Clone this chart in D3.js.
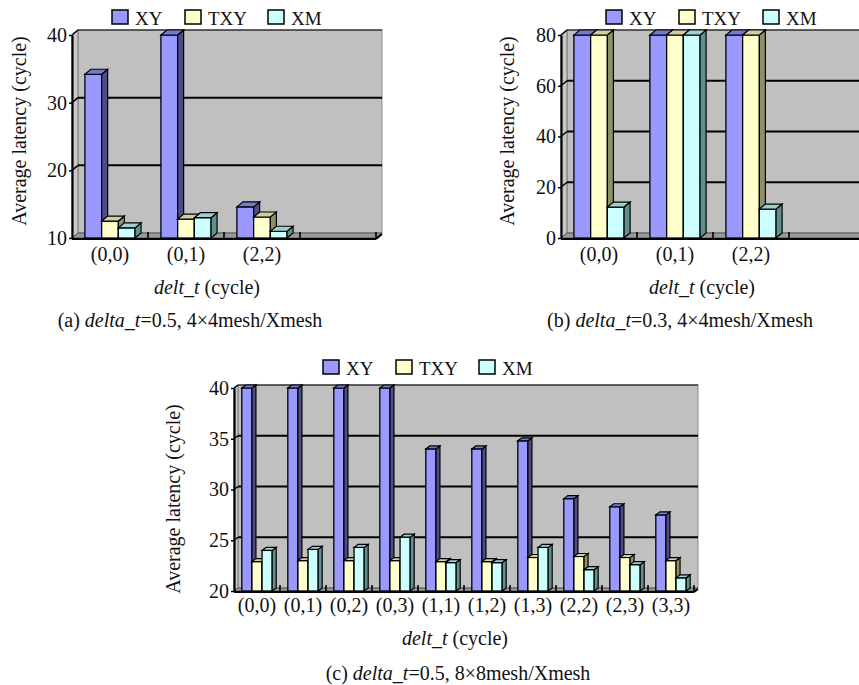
<!DOCTYPE html>
<html>
<head>
<meta charset="utf-8">
<script src="https://cdn.jsdelivr.net/npm/d3@7/dist/d3.min.js"></script>
<style>
  html, body { margin: 0; padding: 0; background: #ffffff; }
  svg { display: block; }
  svg text { font-family: "Times New Roman", "Liberation Serif", Times, serif !important; fill: #111; }
</style>
</head>
<body>
<svg id="chart" width="859" height="685" font-family="Liberation Serif, Times New Roman, serif"></svg>
<script>
// ---- data ----
const seriesNames = ["XY", "TXY", "XM"];

// (a) delta_t = 0.5, 4x4 mesh
const catsA = ["(0,0)", "(0,1)", "(2,2)"];
const xyA  = [34.2, 40, 14.6];
const txyA = [12.5, 12.8, 13.1];
const xmA  = [11.5, 13.0, 11.0];
const ticksA = [10, 20, 30, 40];

// (b) delta_t = 0.3, 4x4 mesh
const catsB = ["(0,0)", "(0,1)", "(2,2)"];
const xyB  = [80, 80, 80];
const txyB = [80, 80, 80];
const xmB  = [12.2, 80, 11.4];
const ticksB = [0, 20, 40, 60, 80];

// (c) delta_t = 0.5, 8x8 mesh
const catsC = ["(0,0)", "(0,1)", "(0,2)", "(0,3)", "(1,1)", "(1,2)", "(1,3)", "(2,2)", "(2,3)", "(3,3)"];
const xyC  = [40, 40, 40, 40, 34.0, 34.0, 34.8, 29.1, 28.3, 27.5];
const txyC = [22.9, 23.0, 23.0, 23.0, 22.9, 22.9, 23.3, 23.4, 23.3, 23.0];
const xmC  = [24.0, 24.1, 24.3, 25.3, 22.8, 22.8, 24.3, 22.1, 22.6, 21.3];
const ticksC = [20, 25, 30, 35, 40];

const yTitle = "Average latency (cycle)";

const FONT = '"Times New Roman", "Liberation Serif", Times, serif';

// face colours: front, side, top
const palette = {
  XY:  { front: "#9999ff", side: "#4c4c86", top: "#7878d0" },
  TXY: { front: "#ffffcc", side: "#8f8f68", top: "#cfcfa2" },
  XM:  { front: "#ccffff", side: "#5f8f8f", top: "#9fd0d0" }
};

const svg = d3.select("#chart");

function drawPanel(cfg) {
  const g = svg.append("g");
  const { x0, x1, base, top, dx, dy } = cfg;

  // one spare empty slot on the right for the 4x4 charts
  const domain = cfg.cats.concat(cfg.spare ? [""] : []);
  const x = d3.scaleBand().domain(domain).range([x0, x1]);
  const y = d3.scaleLinear().domain(cfg.yDomain).range([base, top]);

  // back wall
  g.append("rect")
    .attr("x", x0 + dx).attr("y", top + dy)
    .attr("width", x1 - x0).attr("height", base - top)
    .attr("fill", "#c0c0c0").attr("stroke", "#8a8a8a").attr("stroke-width", 1);

  // left wall
  g.append("path")
    .attr("d", `M${x0},${top} L${x0 + dx},${top + dy} L${x0 + dx},${base + dy} L${x0},${base} Z`)
    .attr("fill", "#c8c8c8").attr("stroke", "#7a7a7a").attr("stroke-width", 1);

  // gridlines on back wall and left wall
  cfg.ticks.forEach(t => {
    if (t === cfg.yDomain[0]) return;
    const yy = y(t);
    g.append("line")
      .attr("x1", x0 + dx).attr("x2", x1 + dx)
      .attr("y1", yy + dy).attr("y2", yy + dy)
      .attr("stroke", "#000").attr("stroke-width", t === cfg.yDomain[1] ? 1 : 2);
    g.append("line")
      .attr("x1", x0).attr("x2", x0 + dx)
      .attr("y1", yy).attr("y2", yy + dy)
      .attr("stroke", "#000").attr("stroke-width", 1.5);
  });

  // floor
  g.append("path")
    .attr("d", `M${x0},${base} L${x1},${base} L${x1 + dx},${base + dy} L${x0 + dx},${base + dy} Z`)
    .attr("fill", "#9a9a9a").attr("stroke", "#555").attr("stroke-width", 1);
  g.append("line")
    .attr("x1", x0).attr("x2", x1).attr("y1", base + 1).attr("y2", base + 1)
    .attr("stroke", "#000").attr("stroke-width", 2.2);
  g.append("line")
    .attr("x1", x1).attr("x2", x1 + dx).attr("y1", base + 1).attr("y2", base + dy + 1)
    .attr("stroke", "#000").attr("stroke-width", 2);

  // category boundary marks on the floor
  domain.forEach(d => {
    const bx = x(d) + x.step();
    g.append("line")
      .attr("x1", bx).attr("x2", bx).attr("y1", base).attr("y2", base - 6)
      .attr("stroke", "#000").attr("stroke-width", 1.6);
  });

  // 3-D bars
  const bw = x.bandwidth() * 0.22;
  const series = [cfg.xy, cfg.txy, cfg.xm];
  cfg.cats.forEach((c, i) => {
    const gx = x(c) + x.bandwidth() / 2 - bw * 1.5;
    series.forEach((vals, s) => {
      const col = palette[seriesNames[s]];
      const bx = gx + s * bw;
      const by = y(vals[i]);
      const bar = g.append("g");
      bar.append("rect")
        .attr("x", bx).attr("y", by).attr("width", bw).attr("height", base - by)
        .attr("fill", col.front).attr("stroke", "#000").attr("stroke-width", 1.3);
      bar.append("path")
        .attr("d", `M${bx + bw},${by} L${bx + bw + dx},${by + dy} L${bx + bw + dx},${base + dy} L${bx + bw},${base} Z`)
        .attr("fill", col.side).attr("stroke", "#000").attr("stroke-width", 1.2);
      bar.append("path")
        .attr("d", `M${bx},${by} L${bx + dx},${by + dy} L${bx + bw + dx},${by + dy} L${bx + bw},${by} Z`)
        .attr("fill", col.top).attr("stroke", "#000").attr("stroke-width", 1.2);
    });
  });

  // value axis
  const ya = g.append("g")
    .attr("transform", `translate(${x0},0)`)
    .call(d3.axisLeft(y).tickValues(cfg.ticks).tickSizeInner(3).tickSizeOuter(0).tickPadding(2));
  ya.attr("font-family", null);
  ya.select(".domain").attr("stroke", "#000").attr("stroke-width", 2.2);
  ya.selectAll(".tick line").attr("stroke", "#000").attr("stroke-width", 1.5);
  ya.selectAll(".tick text")
    .style("font-family", FONT)
    .style("font-size", "20px").attr("fill", "#111");

  // category axis
  const xa = g.append("g")
    .attr("transform", `translate(0,${cfg.catBaseline})`)
    .call(d3.axisBottom(x).tickSize(0).tickPadding(0));
  xa.attr("font-family", null);
  xa.select(".domain").remove();
  xa.selectAll(".tick text")
    .attr("y", 0).attr("dy", 0)
    .style("font-family", FONT)
    .style("font-size", "20px").attr("fill", "#111");

  // axis titles
  g.append("text")
    .attr("transform", `translate(${cfg.yTitleX},${cfg.yTitleY}) rotate(-90)`)
    .attr("text-anchor", "middle").style("font-size", "20px").style("font-family", FONT)
    .text(yTitle);

  const xt = g.append("text")
    .attr("x", cfg.xTitleX).attr("y", cfg.xTitleY)
    .attr("text-anchor", "middle").style("font-size", "20px").style("font-family", FONT);
  xt.append("tspan").style("font-style", "italic").text("delt_t");
  xt.append("tspan").text(" (cycle)");

  const cap = g.append("text")
    .attr("x", cfg.capX).attr("y", cfg.capY)
    .attr("text-anchor", "middle").style("font-size", "20px").style("font-family", FONT);
  cap.append("tspan").text(cfg.capPrefix + " ");
  cap.append("tspan").style("font-style", "italic").text("delta_t");
  cap.append("tspan").text(cfg.capSuffix);

  // legend
  seriesNames.forEach((name, s) => {
    const lx = cfg.legendX[s];
    g.append("rect")
      .attr("x", lx).attr("y", cfg.legendY)
      .attr("width", 16).attr("height", 14)
      .attr("fill", palette[name].front).attr("stroke", "#000").attr("stroke-width", 1.5);
    g.append("text")
      .attr("x", lx + 23).attr("y", cfg.legendY + 15)
      .style("font-size", "19px").style("font-family", FONT).text(name);
  });
}

drawPanel({
  cats: catsA, xy: xyA, txy: txyA, xm: xmA, ticks: ticksA, yDomain: [10, 40], spare: true,
  x0: 72, x1: 376, base: 238, top: 35, dx: 6, dy: -5,
  catBaseline: 261, yTitleX: 26, yTitleY: 131,
  xTitleX: 207, xTitleY: 294, capX: 190, capY: 327,
  capPrefix: "(a)", capSuffix: "=0.5, 4×4mesh/Xmesh",
  legendX: [112, 185, 268], legendY: 10
});

drawPanel({
  cats: catsB, xy: xyB, txy: txyB, xm: xmB, ticks: ticksB, yDomain: [0, 80], spare: true,
  x0: 561, x1: 865, base: 238, top: 35, dx: 6, dy: -5,
  catBaseline: 261, yTitleX: 514, yTitleY: 131,
  xTitleX: 702, xTitleY: 294, capX: 680, capY: 327,
  capPrefix: "(b)", capSuffix: "=0.3, 4×4mesh/Xmesh",
  legendX: [606, 679, 763], legendY: 10
});

drawPanel({
  cats: catsC, xy: xyC, txy: txyC, xm: xmC, ticks: ticksC, yDomain: [20, 40], spare: false,
  x0: 234, x1: 694, base: 591, top: 388, dx: 4, dy: -3,
  catBaseline: 612, yTitleX: 180, yTitleY: 499,
  xTitleX: 455, xTitleY: 645, capX: 458, capY: 680,
  capPrefix: "(c)", capSuffix: "=0.5, 8×8mesh/Xmesh",
  legendX: [323, 396, 479], legendY: 360
});
</script>
</body>
</html>
